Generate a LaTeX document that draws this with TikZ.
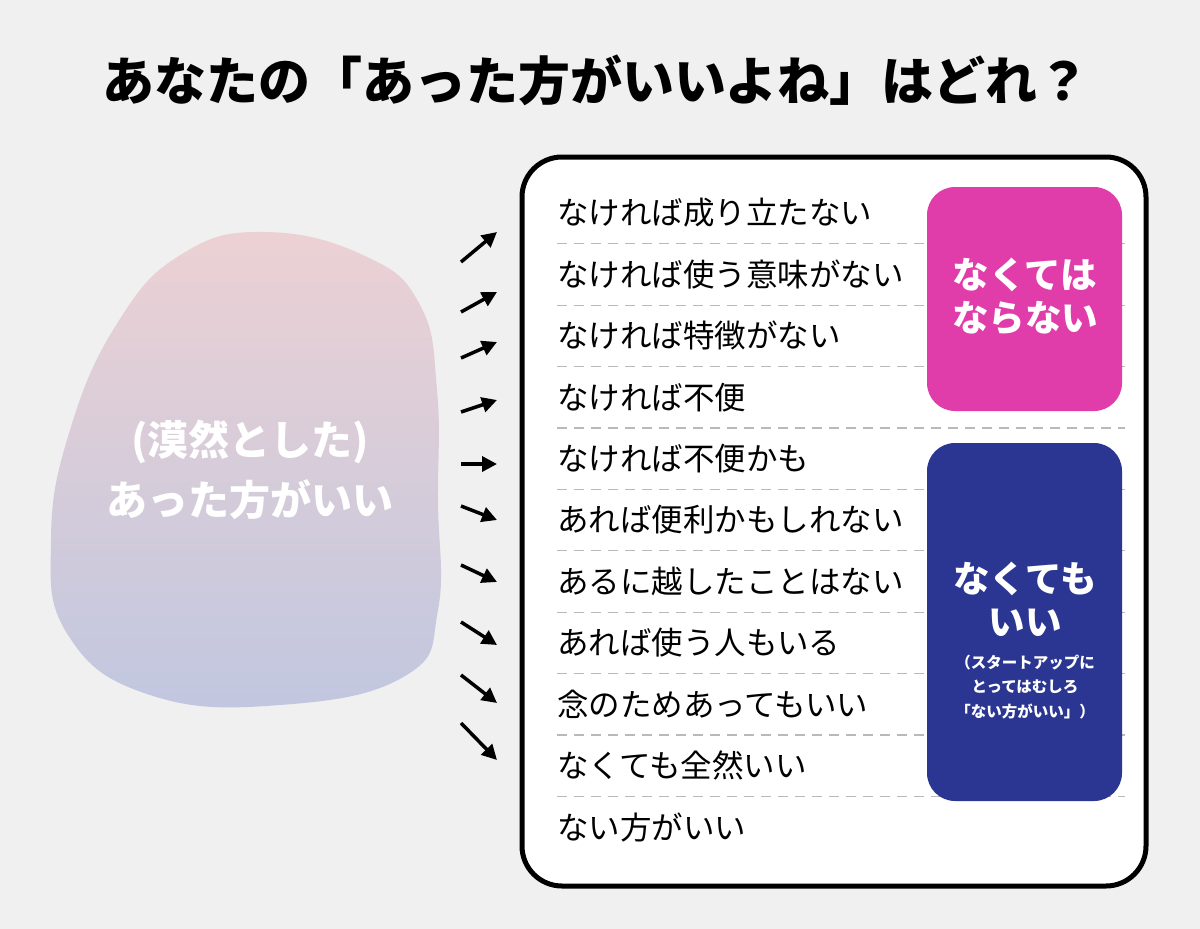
\documentclass[tikz,border=0pt]{standalone}
\usepackage{fontspec}
\setmainfont{Noto Sans CJK JP}
\usetikzlibrary{arrows.meta,positioning}
\definecolor{bgpaper}{RGB}{240,240,240}
\definecolor{musthave}{RGB}{224,61,170}
\definecolor{okwithout}{RGB}{42,54,145}
\definecolor{blobtop}{RGB}{236,209,212}
\definecolor{blobbottom}{RGB}{193,199,223}
\definecolor{sepgray}{RGB}{185,185,185}

\begin{document}
\begin{tikzpicture}[
  x=1pt, y=-1pt,
  panel/.style={draw=black, line width=5pt, fill=white, rounded corners=40pt, minimum width=624pt, minimum height=729pt},
  item/.style={anchor=west, inner sep=0pt, font=\fontsize{31.5}{31.5}\selectfont},
  rowsep/.style={draw=sepgray, line width=1.2pt, dash pattern=on 10pt off 7pt},
  tagbox/.style={rounded corners=28pt, minimum width=195pt, inner sep=0pt},
  tagtext/.style={text=white, align=center, inner sep=0pt, font=\bfseries\fontsize{36.5}{43}\selectfont},
  smalltext/.style={text=white, align=center, inner sep=0pt, font=\bfseries\fontsize{15.5}{24.5}\selectfont},
  fanarrow/.style={-{Triangle[length=15pt, width=15pt]}, line width=3.5pt}
]
\useasboundingbox (0,0) rectangle (1200,929);
\fill[bgpaper] (0,0) rectangle (1200,929);

\node[font=\bfseries\fontsize{52}{52}\selectfont, inner sep=0pt] (title) at (596,80) {あなたの「あった方がいいよね」はどれ？};

\shade[top color=blobtop, bottom color=blobbottom] plot[smooth cycle, tension=0.75] coordinates {
  (265,232) (365,256) (420,305) (437,390) (438,500) (438,610) (405,676) (280,705)
  (150,695) (68,635) (51,540) (70,430) (118,322) (182,254)};
\node[text=white, align=center, inner sep=0pt, font=\bfseries\fontsize{41}{60}\selectfont] (vague) at (250,470) {(漠然とした)\\あった方がいい};

\node[panel] (panel) at (834,521.5) {};

\foreach \k in {1,...,10}
  \draw[rowsep] (557,{243.7+61.4*(\k-1)}) -- (1125,{243.7+61.4*(\k-1)});

\foreach \txt [count=\i] in {なければ成り立たない, なければ使う意味がない, なければ特徴がない, なければ不便,
  なければ不便かも, あれば便利かもしれない, あるに越したことはない, あれば使う人もいる,
  念のためあってもいい, なくても全然いい, ない方がいい}
  \node[item] (r\i) at (557,{213+61.4*(\i-1)}) {\txt};

\node[tagbox, fill=musthave, minimum height=224pt] (must) at (1024.5,299) {};
\node[tagtext] (mustlbl) at (1025,297) {なくては\\ならない};

\node[tagbox, fill=okwithout, minimum height=358pt] (okay) at (1024.5,622) {};
\node[tagtext] (okaylbl) at (1025,599) {なくても\\いい};
\node[smalltext] (okaynote) at (1025,687) {（スタートアップに\\とってはむしろ\\「ない方がいい」）};

\foreach \ty/\hy [count=\i] in {262/232, 312/292, 358/342, 412/400, 464/464,
  506/520, 565/582, 622/645, 675/703, 723/760} {
  \coordinate (t\i) at (461,\ty);
  \coordinate (h\i) at (497,\hy);
  \draw[fanarrow] (t\i) -- (h\i);
}
\end{tikzpicture}
\end{document}
